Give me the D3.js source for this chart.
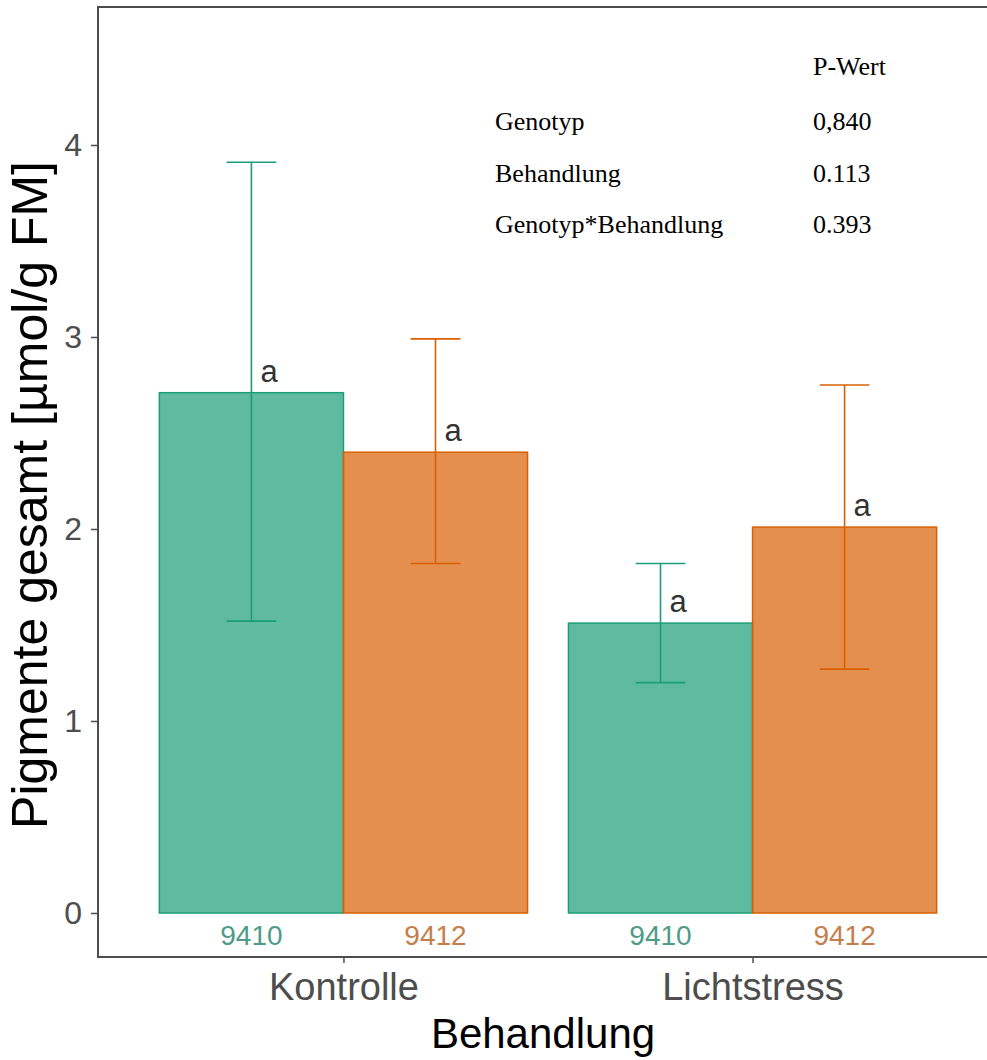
<!DOCTYPE html>
<html>
<head>
<meta charset="utf-8">
<script src="https://cdn.jsdelivr.net/npm/d3@7/dist/d3.min.js"></script>
<style>
  html, body { margin: 0; padding: 0; background: #fff; }
  svg { display: block; }
</style>
</head>
<body>
<svg id="chart" width="987" height="1060"></svg>
<script>
// ---- data ----
const treatments = ["Kontrolle", "Lichtstress"];
const genotypes = ["9410", "9412"];
const meanKontrolle = [2.71, 2.40];
const meanLichtstress = [1.51, 2.01];
const upperKontrolle = [3.91, 2.99];
const upperLichtstress = [1.82, 2.75];
const lowerKontrolle = [1.52, 1.82];
const lowerLichtstress = [1.20, 1.27];
const letterKontrolle = ["a", "a"];
const letterLichtstress = ["a", "a"];
const yTicks = [0, 1, 2, 3, 4];
const tableRows = ["Genotyp", "Behandlung", "Genotyp*Behandlung"];
const tableValues = ["0,840", "0.113", "0.393"];
const tableHeader = "P-Wert";
const yTitle = "Pigmente gesamt [µmol/g FM]";
const xTitle = "Behandlung";

const means = [meanKontrolle, meanLichtstress];
const uppers = [upperKontrolle, upperLichtstress];
const lowers = [lowerKontrolle, lowerLichtstress];
const letters = [letterKontrolle, letterLichtstress];

const rows = [];
treatments.forEach((t, i) => genotypes.forEach((g, j) => rows.push({
  t, g, mean: means[i][j], hi: uppers[i][j], lo: lowers[i][j], letter: letters[i][j]
})));

const strokeCol = { "9410": "#1B9E77", "9412": "#D95F02" };
const labelCol = { "9410": "#4E9C87", "9412": "#C47E4C" };

// ---- layout ----
const panel = { left: 98, right: 998, top: 7, bottom: 957 };
const svg = d3.select("#chart");

const x = d3.scalePoint().domain(treatments).range([panel.left, panel.right]).padding(0.6);
const step = x.step();
const xg = d3.scaleBand().domain(genotypes).range([-0.45 * step, 0.45 * step]);
const y = d3.scaleLinear().domain([0, 4]).range([913, 145]);

const bw = xg.bandwidth();
const cx = d => x(d.t) + xg(d.g) + bw / 2;

// bars
svg.append("g").selectAll("rect").data(rows).join("rect")
  .attr("x", d => x(d.t) + xg(d.g))
  .attr("width", bw)
  .attr("y", d => y(d.mean))
  .attr("height", d => y(0) - y(d.mean))
  .attr("fill", d => strokeCol[d.g])
  .attr("fill-opacity", 0.7)
  .attr("stroke", d => strokeCol[d.g])
  .attr("stroke-width", 1.5);

// error bars
const cap = bw * 0.27;
const eb = svg.append("g");
eb.selectAll("line.v").data(rows).join("line").attr("class", "v")
  .attr("x1", cx).attr("x2", cx)
  .attr("y1", d => y(d.lo)).attr("y2", d => y(d.hi))
  .attr("stroke", d => strokeCol[d.g]).attr("stroke-width", 1.6);
eb.selectAll("line.t").data(rows).join("line").attr("class", "t")
  .attr("x1", d => cx(d) - cap / 2).attr("x2", d => cx(d) + cap / 2)
  .attr("y1", d => y(d.hi)).attr("y2", d => y(d.hi))
  .attr("stroke", d => strokeCol[d.g]).attr("stroke-width", 1.6);
eb.selectAll("line.b").data(rows).join("line").attr("class", "b")
  .attr("x1", d => cx(d) - cap / 2).attr("x2", d => cx(d) + cap / 2)
  .attr("y1", d => y(d.lo)).attr("y2", d => y(d.lo))
  .attr("stroke", d => strokeCol[d.g]).attr("stroke-width", 1.6);

// letters
svg.append("g").selectAll("text").data(rows).join("text")
  .attr("x", d => cx(d) + 9)
  .attr("y", d => y(d.mean) - 11)
  .attr("font-family", "Liberation Sans, Arial, sans-serif")
  .attr("font-size", 31)
  .attr("fill", "#333333")
  .text(d => d.letter);

// genotype labels under bars
svg.append("g").selectAll("text").data(rows).join("text")
  .attr("x", cx)
  .attr("y", 945)
  .attr("text-anchor", "middle")
  .attr("font-family", "Liberation Sans, Arial, sans-serif")
  .attr("font-size", 28)
  .attr("fill", d => labelCol[d.g])
  .text(d => d.g);

// panel border
svg.append("rect")
  .attr("x", panel.left).attr("y", panel.top)
  .attr("width", panel.right - panel.left).attr("height", panel.bottom - panel.top)
  .attr("fill", "none").attr("stroke", "#4d4d4d").attr("stroke-width", 2);

// y axis
const yAxis = svg.append("g").attr("transform", `translate(${panel.left},0)`)
  .call(d3.axisLeft(y).tickValues(yTicks).tickSize(7).tickPadding(9).tickFormat(d3.format("d")));
yAxis.select(".domain").remove();
yAxis.selectAll(".tick line").attr("stroke", "#4d4d4d").attr("stroke-width", 1.5);
yAxis.selectAll(".tick text")
  .attr("font-family", "Liberation Sans, Arial, sans-serif")
  .attr("font-size", 32).attr("fill", "#4d4d4d");

// x axis
const xAxis = svg.append("g").attr("transform", `translate(0,${panel.bottom})`)
  .call(d3.axisBottom(x).tickSize(6).tickPadding(10));
xAxis.select(".domain").remove();
xAxis.selectAll(".tick line").attr("stroke", "#4d4d4d").attr("stroke-width", 1.5);
xAxis.selectAll(".tick text")
  .attr("font-family", "Liberation Sans, Arial, sans-serif")
  .attr("font-size", 38).attr("fill", "#4d4d4d")
  .attr("dy", "0.71em");

// axis titles
svg.append("text")
  .attr("x", (panel.left + panel.right) / 2 - 5)
  .attr("y", 1048)
  .attr("text-anchor", "middle")
  .attr("font-family", "Liberation Sans, Arial, sans-serif")
  .attr("font-size", 42).attr("fill", "#000")
  .text(xTitle);

svg.append("text")
  .attr("transform", `translate(47,${(panel.top + panel.bottom) / 2 + 13}) rotate(-90)`)
  .attr("text-anchor", "middle")
  .attr("font-family", "Liberation Sans, Arial, sans-serif")
  .attr("font-size", 50).attr("fill", "#000")
  .text(yTitle);

// p-value table
const tbl = svg.append("g")
  .attr("font-family", "Liberation Serif, Times New Roman, serif")
  .attr("font-size", 26).attr("fill", "#000");
tbl.append("text").attr("x", 813).attr("y", 75).text(tableHeader);
const rowY = d3.scalePoint().domain(tableRows).range([130, 233]);
tbl.selectAll("text.lab").data(tableRows).join("text").attr("class", "lab")
  .attr("x", 495).attr("y", d => rowY(d)).text(d => d);
tbl.selectAll("text.val").data(tableValues).join("text").attr("class", "val")
  .attr("x", 813).attr("y", (d, i) => rowY(tableRows[i])).text(d => d);
</script>
</body>
</html>
